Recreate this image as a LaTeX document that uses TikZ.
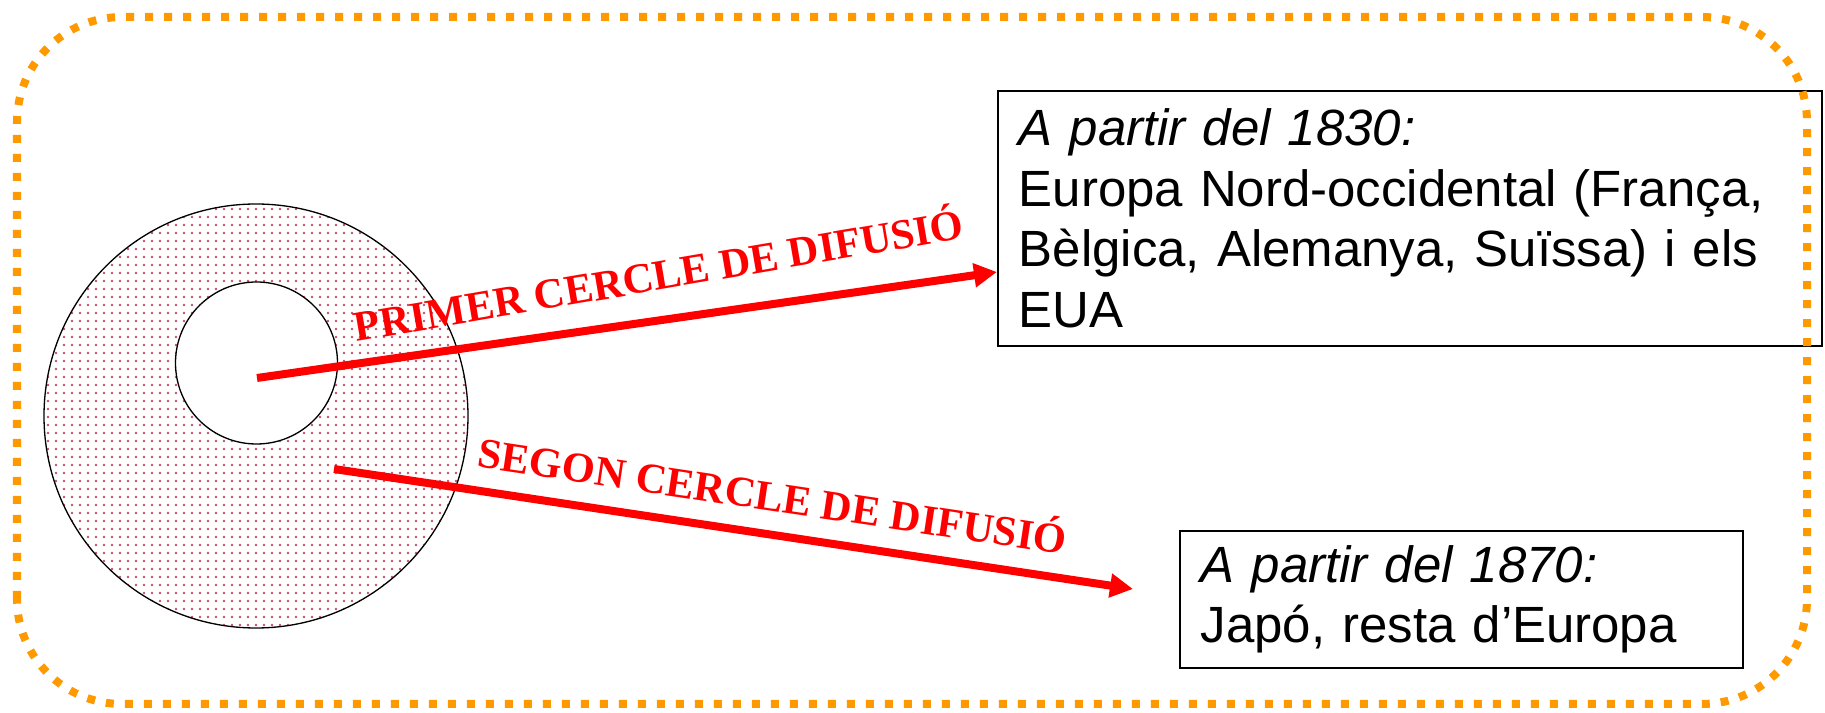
\documentclass[tikz,border=0pt]{standalone}
\usepackage{fontspec}
\setmainfont{Liberation Sans}
\newfontfamily\difusiofont{Liberation Serif}
\usetikzlibrary{arrows.meta,patterns.meta}
\definecolor{DifRed}{HTML}{FF0000}
\definecolor{DifOrange}{HTML}{FF9900}
\definecolor{DifDots}{HTML}{C0506A}

\begin{document}
\begin{tikzpicture}[
  datebox/.style={draw=black,line width=0.9pt,anchor=north west,align=left,inner xsep=0.42cm,inner ysep=0pt,font=\fontsize{29}{34.4}\selectfont},
  circlelabel/.style={text=DifRed,font=\difusiofont\bfseries\fontsize{24.2}{29}\selectfont,inner sep=0pt},
  difarrow/.style={draw=DifRed,line width=0.16cm,-{Triangle[length=0.46cm,width=0.46cm]}}
]
  \useasboundingbox (0,0) rectangle (36.5,14.26);

  % cercles de difusio
  \node[circle,draw=black,line width=0.75pt,minimum size=8.48cm,inner sep=0pt,
        pattern={Dots[distance=0.16cm,radius=0.75pt]},pattern color=DifDots] (outer) at (5.12,5.94) {};
  \node[circle,draw=black,fill=white,line width=0.75pt,minimum size=3.24cm,inner sep=0pt] (inner) at (5.13,7.0) {};

  % caixes
  \node[datebox,text width=15.64cm,minimum height=5.10cm] (box1830) at (19.94,12.46)
    {\textit{A partir del 1830:}\\Europa Nord-occidental (França,\\Bèlgica, Alemanya, Suïssa) i els\\EUA};
  \node[datebox,text width=10.42cm,minimum height=2.74cm] (box1870) at (23.58,3.66)
    {\textit{A partir del 1870:}\\Japó, resta d’Europa};

  % fletxes
  \coordinate (primerstart) at (5.14,6.70);
  \coordinate (primertip) at (19.94,8.82);
  \coordinate (segonstart) at (6.68,4.88);
  \coordinate (segontip) at (22.66,2.48);
  \draw[difarrow] (primerstart) -- (primertip);
  \draw[difarrow] (segonstart) -- (segontip);
  \node[circlelabel,rotate=9.7] (primerlabel) at (13.16,8.82) {PRIMER CERCLE DE DIFUSIÓ};
  \node[circlelabel,rotate=-8.5] (segonlabel) at (15.46,4.40) {SEGON CERCLE DE DIFUSIÓ};

  % marc
  \draw[DifOrange,line width=0.16cm,dash pattern=on 0.16cm off 0.22cm,rounded corners=2.1cm]
    (0.34,0.18) rectangle (36.14,13.92);
\end{tikzpicture}
\end{document}
